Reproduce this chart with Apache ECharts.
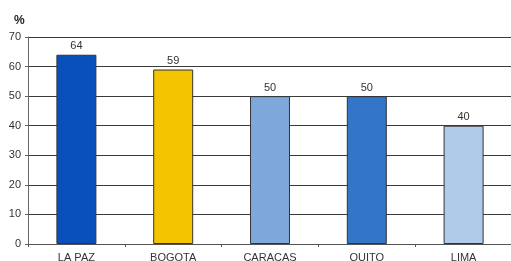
<!DOCTYPE html>
<html lang="en">
<head>
    <meta charset="UTF-8">
    <title>ECharts</title>
    <script src="https://cdn.jsdelivr.net/npm/echarts@6/dist/echarts.min.js"></script>
    <style>
        html, body { margin: 0; padding: 0; background: #fff; }
    </style>
</head>
<body>
<div id="main" style="width: 511px;height:261px;"></div>
<script type="text/javascript">
    // data
    var cities = ['LA PAZ', 'BOGOTA', 'CARACAS', 'QUITO', 'LIMA'];
    var values = [64, 59, 50, 50, 40];
    var colors = ['#0a50bd', '#f5c400', '#7ea8dc', '#3376c8', '#b0cbea'];

    var myChart = echarts.init(document.getElementById('main'));
    var fontFam = 'Liberation Sans, Arial, sans-serif';

    var barData = [];
    for (var i = 0; i < values.length; i++) {
        barData.push({ value: values[i], itemStyle: { color: colors[i] } });
    }

    myChart.setOption({
        animation: false,
        title: {
            text: '%',
            left: 9,
            top: 10,
            textStyle: { fontSize: 12, fontWeight: 'bold', color: '#222', fontFamily: fontFam }
        },
        grid: { left: 28, top: 37, bottom: 17, width: 484, outerBoundsMode: 'none', containLabel: false },
        xAxis: {
            type: 'category',
            data: cities,
            axisLine: { lineStyle: { color: '#555' } },
            axisTick: { show: true, length: 3, lineStyle: { color: '#555' } },
            axisLabel: { color: '#333', fontSize: 11, fontFamily: fontFam, margin: 8 }
        },
        yAxis: {
            type: 'value',
            min: 0,
            max: 70,
            interval: 10,
            axisLine: { show: true, lineStyle: { color: '#666' } },
            axisTick: { show: true, length: 3, lineStyle: { color: '#666' } },
            axisLabel: { color: '#333', fontSize: 11, fontFamily: fontFam, margin: 7 },
            splitLine: { lineStyle: { color: '#3a3a3a', width: 1 } }
        },
        series: [{
            type: 'bar',
            barWidth: 40,
            data: barData,
            itemStyle: { borderColor: '#333', borderWidth: 1 },
            label: {
                show: true,
                position: 'top',
                distance: 3,
                color: '#333',
                fontSize: 11,
                fontFamily: fontFam
            }
        }]
    });
</script>
</body>
</html>
